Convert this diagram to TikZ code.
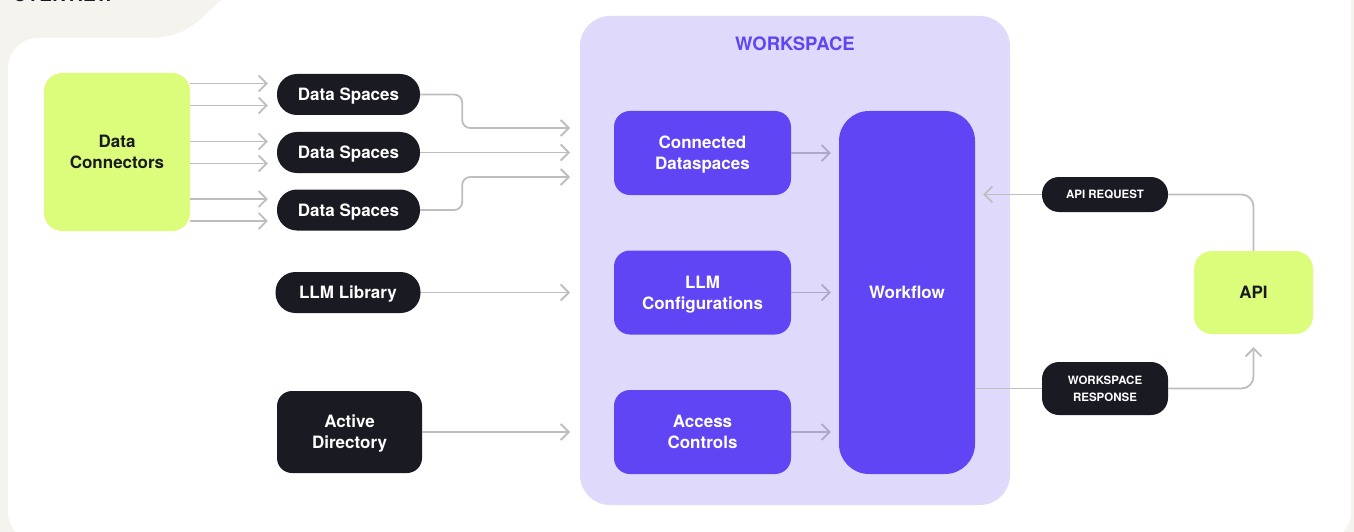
\documentclass[tikz,border=0pt]{standalone}
\usepackage{fontspec}
\setmainfont{TeX Gyre Heros}
\usetikzlibrary{arrows.meta,calc}

\definecolor{paper}{HTML}{F4F3EE}
\definecolor{lime}{HTML}{DBFD7B}
\definecolor{ink}{HTML}{1A1A22}
\definecolor{lavender}{HTML}{DFDAFC}
\definecolor{violet}{HTML}{6045F5}
\definecolor{wire}{HTML}{BEBEBE}
\definecolor{wirein}{HTML}{ADA8C9}

\begin{document}
\begin{tikzpicture}[
    x=1pt, y=-1pt,
    font=\fontsize{17}{21}\selectfont\bfseries,
    every node/.style={text height=12.2pt, text depth=0pt},
    twolines/.style={text height=33.2pt},
    source/.style={fill=ink, text=white, rounded corners=20pt, minimum width=143pt, minimum height=41pt, inner sep=0pt, align=center},
    hub/.style={fill=lime, text=ink, rounded corners=18pt, inner sep=0pt, align=center},
    part/.style={fill=violet, text=white, rounded corners=16pt, minimum width=177pt, minimum height=84pt, inner sep=0pt, align=center},
    tag/.style={fill=ink, text=white, rounded corners=17pt, minimum width=126pt, inner sep=0pt, align=center, text height=8.3pt, font=\fontsize{11.5}{17}\selectfont\bfseries},
    wireline/.style={draw=wire, line width=1.8pt},
    flow/.style={wireline, -{Straight Barb[length=8pt,width=16pt]}}
  ]
  % page and panel
  \useasboundingbox (0,0) rectangle (1354,532);
  \fill [paper] (0,0) rectangle (1354,532);
  \fill [white, rounded corners=30pt] (8,38) rectangle (1351,542);
  \fill [white] (150,38) .. controls (192,38) and (205,12) .. (222,0) -- (1351,0) -- (1351,70) -- (150,70) -- cycle;
  \node (title) at (9,2) [anchor=base west, text=ink, font=\fontsize{19}{19}\selectfont\bfseries] {OVERVIEW};

  % workspace
  \node (ws) at (795,260.5) [fill=lavender, rounded corners=30pt, minimum width=430pt, minimum height=489pt] {};
  \node (wstitle) at (795,44) [text=violet, text height=13.3pt, font=\fontsize{18.5}{20}\selectfont\bfseries] {WORKSPACE};

  \node (cds)  at (702.5,153)   [part, twolines] {Connected\\Dataspaces};
  \node (llmc) at (702.5,292.5) [part, twolines] {LLM\\Configurations};
  \node (acc)  at (702.5,432)   [part, twolines] {Access\\Controls};
  \node (wf)   at (907,292.5)   [part, rounded corners=30pt, minimum width=136pt, minimum height=363pt] {Workflow};

  % sources
  \node (dc)  at (117,152)     [hub, twolines, minimum width=146pt, minimum height=158pt] {Data\\Connectors};
  \node (ds1) at (348.5,94.5)  [source] {Data Spaces};
  \node (ds2) at (348.5,152.5) [source] {Data Spaces};
  \node (ds3) at (348.5,210)   [source] {Data Spaces};
  \node (llm) at (348,292.5)   [source, minimum width=145pt] {LLM Library};
  \node (ad)  at (349.5,432)   [source, twolines, rounded corners=15pt, minimum width=145pt, minimum height=82pt] {Active\\Directory};

  % api side
  \node (api)  at (1253.5,292.5) [hub, minimum width=119pt, minimum height=83pt] {API};
  \node (req)  at (1105,194.5)   [tag, minimum height=35pt] {API REQUEST};
  \node (resp) at (1105,388.5)   [tag, text height=25.3pt, minimum height=53pt] {WORKSPACE\\RESPONSE};

  \coordinate (in1) at (570,128);
  \coordinate (in2) at (570,152.5);
  \coordinate (in3) at (570,177);
  \coordinate (reqtip) at (983,194.5);
  \coordinate (resptip) at ($(api.south)+(0,13)$);

  \foreach \n in {1,2,3}
    \foreach \d in {-11,11}
      \draw [flow] ($(dc.east |- ds\n)+(0,\d)$) -- ($(ds\n.west)+(-9,\d)$);

  \draw [flow, rounded corners=8pt] (ds1.east) -- ++(42,0) |- (in1);
  \draw [flow] (ds2.east) -- (in2);
  \draw [flow, rounded corners=8pt] (ds3.east) -- ++(42,0) |- (in3);
  \draw [flow] (llm.east) -- (llm.east -| in1);
  \draw [flow] (ad.east) -- (ad.east -| in1);

  \foreach \b in {cds,llmc,acc}
    \draw [flow, draw=wirein] (\b.east) -- ($(\b.east -| wf.west)+(-8,0)$);

  \draw [wireline, rounded corners=12pt] (api.north) |- (req.east);
  \draw [flow] (req.west) -- (reqtip);
  \draw [wireline] (wf.east |- resp.west) -- (resp.west);
  \draw [flow, rounded corners=12pt] (resp.east) -| (resptip);
\end{tikzpicture}
\end{document}
